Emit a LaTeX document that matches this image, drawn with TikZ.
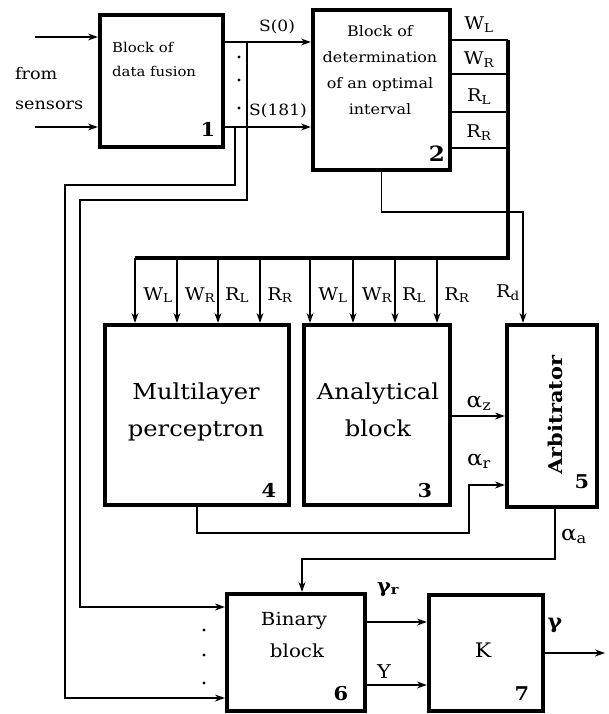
\documentclass[tikz,border=0pt]{standalone}
\usepackage{fontspec}
\setmainfont{DejaVu Serif}[FakeStretch=1.1]
\usetikzlibrary{arrows.meta}
\begin{document}
\begin{tikzpicture}[x=1pt,y=-1pt,
  blk/.style={draw, line width=4.2pt, inner sep=0pt},
  ln/.style={line width=1.3pt},
  arr/.style={line width=1.3pt, -{Stealth[length=10pt,width=7pt]}},
  bus/.style={line width=4.5pt},
  lbl/.style={inner sep=0pt, anchor=base, font=\fontsize{17.5}{20}\selectfont},
  alb/.style={inner sep=0pt, anchor=base, font=\fontsize{21}{23}\selectfont},
  sml/.style={inner sep=0pt, anchor=base, font=\fontsize{14.5}{17}\selectfont},
  big/.style={inner sep=0pt, anchor=base, font=\fontsize{22}{26}\selectfont},
  num/.style={inner sep=0pt, anchor=base, font=\bfseries\fontsize{19}{21}\selectfont}
]
\useasboundingbox (0,0) rectangle (608,714);

% blocks
\node[blk, minimum width=123pt, minimum height=132pt] (b1) at (161.5,81) {};
\node[blk, minimum width=137pt, minimum height=160pt] (b2) at (381.5,90) {};
\node[blk, minimum width=184pt, minimum height=180pt] (b4) at (197,415) {};
\node[blk, minimum width=146pt, minimum height=180pt] (b3) at (377,415) {};
\node[blk, minimum width=90pt, minimum height=182pt] (b5) at (552,416) {};
\node[blk, minimum width=138pt, minimum height=117pt] (b6) at (296,652.5) {};
\node[blk, minimum width=114pt, minimum height=116pt] (b7) at (486,653) {};

% texts
\node[inner sep=0pt, anchor=base west, font=\fontsize{13.5}{16}\selectfont] (t1a) at (112,53) {Block of};
\node[inner sep=0pt, anchor=base west, font=\fontsize{13.5}{16}\selectfont] (t1b) at (112,77) {data fusion};
\node[num] (n1) at (208,137) {1};
\node[inner sep=0pt, anchor=base west, font=\fontsize{16}{18}\selectfont] (fr) at (15,80) {from};
\node[inner sep=0pt, anchor=base west, font=\fontsize{16}{18}\selectfont] (se) at (15,110) {sensors};
\node[sml, font=\fontsize{15.5}{17}\selectfont] (ls0) at (277,32) {S(0)};
\node[sml, font=\fontsize{15.5}{17}\selectfont] (ls181) at (278,116) {S(181)};

\node[sml] (t2a) at (380,37) {Block of};
\node[sml] (t2b) at (380,63) {determination};
\node[sml] (t2c) at (380,89) {of an optimal};
\node[sml] (t2d) at (380,115) {interval};
\node[num, font=\bfseries\fontsize{21}{23}\selectfont] (n2) at (437,162) {2};

\node[lbl] (o1) at (479,30) {W\textsubscript{L}};
\node[lbl] (o2) at (479,65) {W\textsubscript{R}};
\node[lbl] (o3) at (479,102) {R\textsubscript{L}};
\node[lbl] (o4) at (479,138) {R\textsubscript{R}};

\node[big] (t4a) at (196,399) {Multilayer};
\node[big] (t4b) at (196,436) {perceptron};
\node[num] (n4) at (269,497) {4};
\node[big] (t3a) at (378,399) {Analytical};
\node[big] (t3b) at (378,436) {block};
\node[num] (n3) at (425,497) {3};
\node[inner sep=0pt, rotate=90, font=\bfseries\fontsize{19}{21}\selectfont] (t5) at (555,415) {Arbitrator};
\node[num] (n5) at (582,488) {5};

\node[inner sep=0pt, anchor=base, font=\fontsize{18}{20}\selectfont] (t6a) at (294,625) {Binary};
\node[inner sep=0pt, anchor=base, font=\fontsize{18}{20}\selectfont] (t6b) at (297,657) {block};
\node[num] (n6) at (341,700) {6};
\node[inner sep=0pt, anchor=base, font=\fontsize{20}{22}\selectfont] (t7) at (483,657) {K};
\node[num] (n7) at (522,700) {7};

% bus labels
\foreach \x/\t [count=\i] in {158/W\textsubscript{L}, 200/W\textsubscript{R}, 237/R\textsubscript{L}, 280/R\textsubscript{R}, 333/W\textsubscript{L}, 377/W\textsubscript{R}, 414/R\textsubscript{L}, 457/R\textsubscript{R}}
  \node[lbl] (bl\i) at (\x,300) {\t};
\node[lbl] (lrd) at (508,297) {R\textsubscript{d}};
\node[alb] (laz) at (479,407) {α\textsubscript{z}};
\node[alb] (lar) at (479,465) {α\textsubscript{r}};
\node[alb] (laa) at (574,540) {α\textsubscript{a}};
\node[alb, font=\bfseries\fontsize{19}{21}\selectfont] (lgr) at (388,592) {γ\textsubscript{r}};
\node[lbl, font=\fontsize{19}{21}\selectfont] (lY) at (384,678) {Y};
\node[alb, font=\bfseries\fontsize{20}{22}\selectfont] (lg) at (555,628) {γ};

% coordinates
\coordinate (in1) at (35,37);
\coordinate (in2) at (35,127);
\coordinate (s0) at (223,42);
\coordinate (s181) at (223,127);
\coordinate (j0) at (247,42);
\coordinate (j1) at (235,127);
\coordinate (h0) at (80,200);
\coordinate (h1) at (65,185);
\coordinate (k1) at (80,607);
\coordinate (k2) at (65,698);
\coordinate (busTop) at (508,40);
\coordinate (busCorner) at (508,258);
\coordinate (busEnd) at (135,258);
\coordinate (wr) at (506,74);
\coordinate (rl) at (506,112);
\coordinate (rr) at (506,148);
\coordinate (rd) at (523,212);
\coordinate (az) at (450,416);
\coordinate (ar) at (469,485);
\coordinate (arlow) at (469,533);
\coordinate (x555) at (555,0);
\coordinate (aa) at (302,559);
\coordinate (gr) at (365,622);
\coordinate (yy) at (365,685);
\coordinate (gout) at (605,653);

% connectors
\draw[arr] (in1) -- (in1 -| b1.west);
\draw[arr] (in2) -- (in2 -| b1.west);
\draw[arr] (s0) -- (s0 -| b2.west);
\draw[arr] (s181) -- (s181 -| b2.west);
\draw[arr] (j0) |- (h0) -- (k1) -- (k1 -| b6.west);
\draw[arr] (j1) |- (h1) -- (k2) -- (k2 -| b6.west);

\draw[line width=2pt] (busTop -| b2.east) -- (busTop);
\draw[ln] (wr -| b2.east) -- (wr);
\draw[ln] (rl -| b2.east) -- (rl);
\draw[ln] (rr -| b2.east) -- (rr);
\draw[bus, line join=miter] (busTop) -- (busCorner) -- (busEnd);
\foreach \x in {135,177,218,260}
  \draw[arr] (\x,258) -- (\x,0 |- b4.north);
\foreach \x in {310,353,395,437}
  \draw[arr] (\x,258) -- (\x,0 |- b3.north);

\draw[arr] (b2.south) |- (rd) -- (rd |- b5.north);
\draw[arr] (az) -- (az -| b5.west);
\draw[arr] (b4.south) |- (arlow) -- (ar) -- (ar -| b5.west);
\draw[arr] (b5.south -| x555) |- (aa) -- (aa |- b6.north);
\draw[arr] (gr) -- (gr -| b7.west);
\draw[arr] (yy) -- (yy -| b7.west);
\draw[arr] (b7.east |- gout) -- (gout);

% dots
\foreach \y in {57,80,108} \fill (239,\y) circle (1.6pt);
\foreach \y in {630,655,683} \fill (204,\y) circle (1.6pt);
\end{tikzpicture}
\end{document}
